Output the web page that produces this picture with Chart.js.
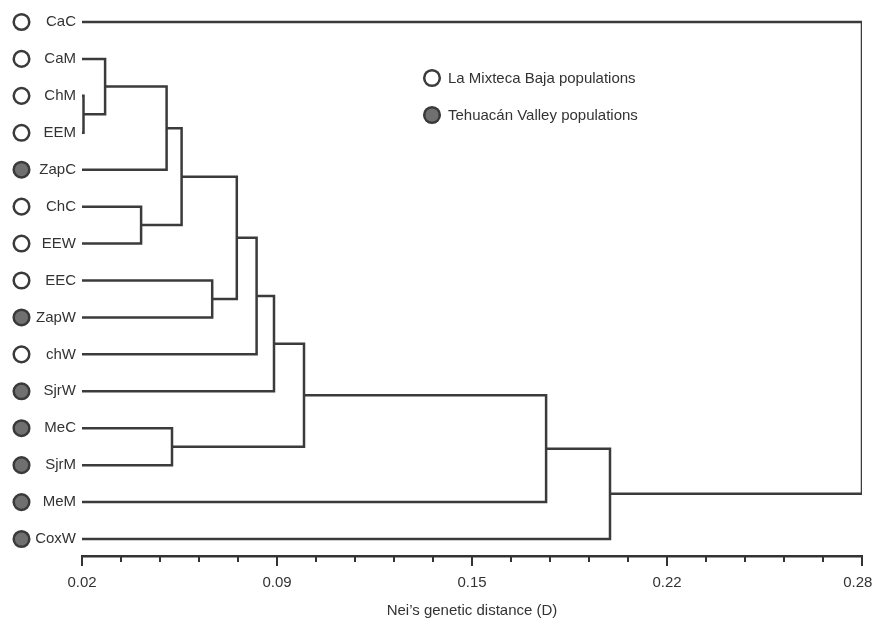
<!DOCTYPE html>
<html>
<head>
<meta charset="utf-8">
<script src="https://cdn.jsdelivr.net/npm/chart.js@4.4.1/dist/chart.umd.min.js"></script>
<style>
  html, body { margin: 0; padding: 0; background: #fff; }
  #wrap { width: 873px; height: 618px; }
</style>
</head>
<body>
<div id="wrap"><canvas id="dendrograma"></canvas></div>
<script>
"use strict";

// Hojas del dendrograma, de arriba a abajo
const leaves = ['CaC', 'CaM', 'ChM', 'EEM', 'ZapC', 'ChC', 'EEW', 'EEC', 'ZapW', 'chW', 'SjrW', 'MeC', 'SjrM', 'MeM', 'CoxW'];
// M = La Mixteca Baja, T = Tehuacán Valley
const leafRegion = ['M', 'M', 'M', 'M', 'T', 'M', 'M', 'M', 'T', 'M', 'T', 'T', 'T', 'T', 'T'];

// Uniones (cada fila crea el nodo 15, 16, ...)
const mergeLeft  = [2, 1, 16, 5, 17, 7, 19, 21, 22, 11, 23, 25, 26, 0];
const mergeRight = [3, 15, 4, 6, 18, 8, 20, 9, 10, 12, 24, 13, 14, 27];
const mergeDist  = [0.0205, 0.0277, 0.0482, 0.0397, 0.0532, 0.0634, 0.0716, 0.0782, 0.0840, 0.0500, 0.0940, 0.1747, 0.1960, 0.2800];

const xTickLabels = ['0.02', '0.09', '0.15', '0.22', '0.28'];
const legendLabels = ['La Mixteca Baja populations', 'Tehuacán Valley populations'];
const legendRegion = ['M', 'T'];

const xMin = 0.02, xMax = 0.28;
const minorPerMajor = 5;

const FONT = '"Liberation Sans", Arial, sans-serif';
const INK = '#333333';
const LINE = '#3b3b3b';

// Construir los segmentos del dendrograma
const nodeY = leaves.map((_, i) => i);
const nodeX = leaves.map(() => xMin);
const datasets = [];
mergeLeft.forEach((a, k) => {
    const b = mergeRight[k];
    const h = mergeDist[k];
    datasets.push({
        data: [
            { x: nodeX[a], y: nodeY[a] },
            { x: h, y: nodeY[a] },
            { x: h, y: nodeY[b] },
            { x: nodeX[b], y: nodeY[b] }
        ],
        showLine: true,
        borderColor: LINE,
        borderWidth: 2.5,
        pointRadius: 0,
        fill: false,
        tension: 0
    });
    nodeY.push((nodeY[a] + nodeY[b]) / 2);
    nodeX.push(h);
});

function drawMarker(ctx, x, y, region) {
    ctx.beginPath();
    ctx.arc(x, y, 7.8, 0, Math.PI * 2);
    ctx.fillStyle = region === 'M' ? '#ffffff' : '#707070';
    ctx.fill();
    ctx.lineWidth = 2.5;
    ctx.strokeStyle = '#3a3a3a';
    ctx.stroke();
}

// Marcas del eje x, círculos de las hojas y leyenda
const extras = {
    id: 'extras',
    afterDraw(chart) {
        const { ctx, chartArea } = chart;
        const x = chart.scales.x;
        const y = chart.scales.y;
        ctx.save();

        ctx.strokeStyle = INK;
        ctx.lineWidth = 2;
        x.ticks.forEach((t, i) => {
            const px = Math.round(x.getPixelForValue(t.value));
            const len = i % minorPerMajor === 0 ? 10 : 6;
            ctx.beginPath();
            ctx.moveTo(px, x.top);
            ctx.lineTo(px, x.top + len);
            ctx.stroke();
        });

        leaves.forEach((name, i) => {
            drawMarker(ctx, 21.5, y.getPixelForValue(i), leafRegion[i]);
        });

        ctx.font = '15px ' + FONT;
        ctx.textBaseline = 'middle';
        ctx.textAlign = 'left';
        legendLabels.forEach((txt, i) => {
            const cx = chartArea.left + 350;
            const cy = chartArea.top + 73 + i * 37;
            drawMarker(ctx, cx, cy, legendRegion[i]);
            ctx.fillStyle = INK;
            ctx.fillText(txt, cx + 16, cy + 1);
        });
        ctx.restore();
    }
};

new Chart(document.getElementById('dendrograma').getContext('2d'), {
    type: 'scatter',
    data: { datasets: datasets },
    options: {
        responsive: true,
        maintainAspectRatio: false,
        animation: false,
        layout: { padding: { top: 5, right: 11, left: 0, bottom: 0 } },
        plugins: {
            legend: { display: false },
            tooltip: { enabled: false }
        },
        scales: {
            x: {
                type: 'linear',
                min: xMin,
                max: xMax,
                afterBuildTicks: (scale) => {
                    const n = (xTickLabels.length - 1) * minorPerMajor;
                    const step = (xMax - xMin) / n;
                    scale.ticks = [];
                    for (let i = 0; i <= n; i++) {
                        scale.ticks.push({ value: xMin + i * step });
                    }
                },
                afterFit: (scale) => {
                    scale.height = 62;
                    scale.paddingLeft = 0;
                    scale.paddingRight = 0;
                },
                ticks: {
                    autoSkip: false,
                    maxRotation: 0,
                    padding: 18,
                    color: INK,
                    font: { family: FONT, size: 15 },
                    callback: (v, i, all) => {
                        if (i % minorPerMajor !== 0) return '';
                        const label = xTickLabels[i / minorPerMajor];
                        // el último rótulo se corre a la izquierda para que quepa
                        return i === all.length - 1 ? label + '\u00a0\u00a0' : label;
                    }
                },
                grid: { display: false, drawTicks: false },
                border: { display: true, color: INK, width: 2.5 },
                title: {
                    display: true,
                    text: 'Nei’s genetic distance (D)',
                    color: INK,
                    font: { family: FONT, size: 15 },
                    padding: { top: 4, bottom: -2 }
                }
            },
            y: {
                type: 'linear',
                reverse: true,
                min: -0.46,
                max: 14.46,
                afterBuildTicks: (scale) => {
                    scale.ticks = leaves.map((_, i) => ({ value: i }));
                },
                afterFit: (scale) => {
                    scale.width = 82;
                    scale.paddingTop = 0;
                    scale.paddingBottom = 0;
                },
                ticks: {
                    autoSkip: false,
                    padding: 6,
                    color: INK,
                    font: { family: FONT, size: 15 },
                    callback: (v) => leaves[v]
                },
                grid: { display: false, drawTicks: false },
                border: { display: false }
            }
        }
    },
    plugins: [extras]
});
</script>
</body>
</html>
